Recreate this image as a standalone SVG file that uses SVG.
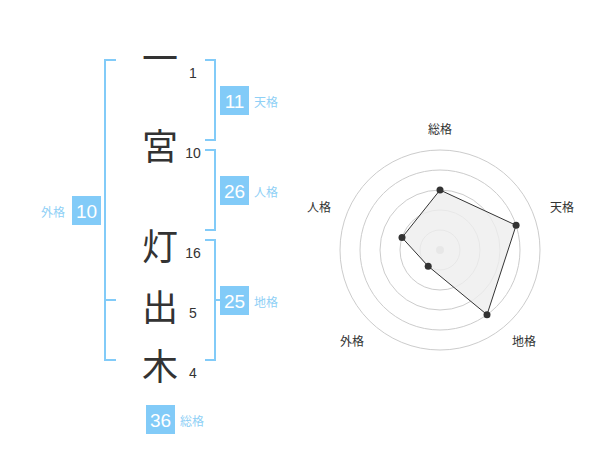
<svg xmlns="http://www.w3.org/2000/svg" width="600" height="470" viewBox="0 0 600 470">
<style>
.ch{font-family:"Noto Sans CJK JP","Noto Sans CJK SC",sans-serif;font-size:36px;fill:#333;text-anchor:middle}
.num{font-family:"Liberation Sans",Arial,sans-serif;font-size:14px;fill:#333;text-anchor:middle}
.br{fill:none;stroke:#82cbf8;stroke-width:2}
.box{fill:#82cbf8}
.bn{font-family:"Liberation Sans",Arial,sans-serif;font-size:19px;fill:#fff;text-anchor:middle}
.lb{font-family:"Noto Sans CJK JP","Noto Sans CJK SC",sans-serif;font-size:12px;fill:#8fd0f6}
.rl{font-family:"Noto Sans CJK JP","Noto Sans CJK SC",sans-serif;font-size:12px;fill:#333;text-anchor:middle}
.ring{fill:none;stroke:#ccc;stroke-width:1}
.pt{fill:#333}
</style>
<rect width="600" height="470" fill="#fff"/>
<g id="chars">
<text class="ch" x="160" y="72">一</text>
<text class="ch" x="160" y="160">宮</text>
<text class="ch" x="160" y="260">灯</text>
<text class="ch" x="160" y="321">出</text>
<text class="ch" x="160" y="380">木</text>
</g>
<g id="strokes">
<text class="num" x="193" y="78">1</text>
<text class="num" x="193" y="158">10</text>
<text class="num" x="193" y="258">16</text>
<text class="num" x="193" y="318">5</text>
<text class="num" x="193" y="378">4</text>
</g>
<g id="connectors">
<path class="br" d="M116,60 H105 V360 H116 M105,300 H116"/>
<path class="br" d="M205,60 H215 V140 H205"/>
<path class="br" d="M205,150 H215 V230 H205"/>
<path class="br" d="M205,240 H215 V360 H205 M215,300 H220"/>
</g>
<g id="tenkaku">
<rect class="box" x="220" y="86" width="29" height="29"/>
<text class="bn" x="234.5" y="107.5">11</text>
<text class="lb" x="254" y="107">天格</text>
</g>
<g id="jinkaku">
<rect class="box" x="220" y="176" width="29" height="29"/>
<text class="bn" x="234.5" y="197.5">26</text>
<text class="lb" x="254" y="197">人格</text>
</g>
<g id="chikaku">
<rect class="box" x="220" y="286" width="29" height="29"/>
<text class="bn" x="234.5" y="307.5">25</text>
<text class="lb" x="254" y="307">地格</text>
</g>
<g id="gaikaku">
<rect class="box" x="72" y="196" width="29" height="29"/>
<text class="bn" x="86.5" y="217.5">10</text>
<text class="lb" x="41" y="217">外格</text>
</g>
<g id="soukaku">
<rect class="box" x="146" y="405" width="29" height="29"/>
<text class="bn" x="160.5" y="426.5">36</text>
<text class="lb" x="180" y="426">総格</text>
</g>
<g id="radar">
<circle class="ring" cx="440" cy="250" r="20"/>
<circle class="ring" cx="440" cy="250" r="40"/>
<circle class="ring" cx="440" cy="250" r="60"/>
<circle class="ring" cx="440" cy="250" r="80"/>
<circle class="ring" cx="440" cy="250" r="100"/>
<circle cx="440" cy="250" r="4" fill="#ccc"/>
<polygon points="440,190 516.1,225.3 487,314.7 428.2,266.2 402,237.6" fill="#eee" fill-opacity="0.8" stroke="#333" stroke-width="1"/>
<circle class="pt" cx="440" cy="190" r="3.5"/>
<circle class="pt" cx="516.1" cy="225.3" r="3.5"/>
<circle class="pt" cx="487" cy="314.7" r="3.5"/>
<circle class="pt" cx="428.2" cy="266.2" r="3.5"/>
<circle class="pt" cx="402" cy="237.6" r="3.5"/>
<text class="rl" x="440" y="134">総格</text>
<text class="rl" x="562" y="212">天格</text>
<text class="rl" x="319" y="212">人格</text>
<text class="rl" x="352" y="346">外格</text>
<text class="rl" x="524" y="346">地格</text>
</g>
</svg>
